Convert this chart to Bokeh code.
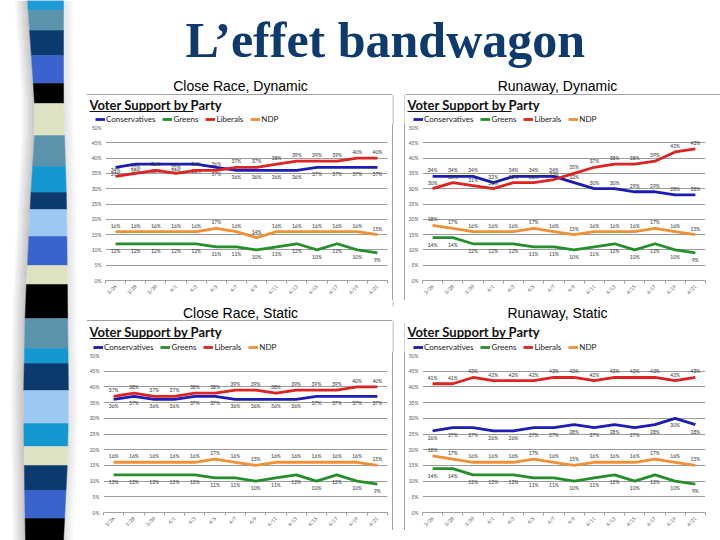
import numpy as np
from bokeh.plotting import figure
from bokeh.layouts import row, column
from bokeh.models import (Range1d, FixedTicker, Legend, LegendItem,
                          PrintfTickFormatter, Spacer)
from bokeh.embed import file_html
from bokeh.resources import INLINE
from bokeh.core.properties import value

# ---------------- data ----------------
dates = ["3/26", "3/28", "3/30", "4/1", "4/3", "4/5", "4/7",
         "4/9", "4/11", "4/13", "4/15", "4/17", "4/19", "4/21"]

party_names = ["Conservatives", "Greens", "Liberals", "NDP"]
party_colors = ["#1c1cb8", "#25902b", "#df2222", "#f39036"]

close_dyn_cons = [37, 38, 38, 38, 38, 37, 36, 36, 36, 36, 37, 37, 37, 37]
close_dyn_grn = [12, 12, 12, 12, 12, 11, 11, 10, 11, 12, 10, 12, 10, 9]
close_dyn_lib = [34, 35, 36, 35, 36, 36, 37, 37, 38, 39, 39, 39, 40, 40]
close_dyn_ndp = [16, 16, 16, 16, 16, 17, 16, 14, 16, 16, 16, 16, 16, 15]

run_dyn_cons = [34, 34, 34, 32, 34, 34, 34, 32, 30, 30, 29, 29, 28, 28]
run_dyn_grn = [14, 14, 12, 12, 12, 11, 11, 10, 11, 12, 10, 12, 10, 9]
run_dyn_lib = [30, 32, 31, 30, 32, 32, 33, 35, 37, 38, 38, 39, 42, 43]
run_dyn_ndp = [18, 17, 16, 16, 16, 17, 16, 15, 16, 16, 16, 17, 16, 15]

close_sta_cons = [36, 37, 36, 36, 37, 37, 36, 36, 36, 36, 37, 37, 37, 37]
close_sta_grn = [12, 12, 12, 12, 12, 11, 11, 10, 11, 12, 10, 12, 10, 9]
close_sta_lib = [37, 38, 37, 37, 38, 38, 39, 39, 38, 39, 39, 39, 40, 40]
close_sta_ndp = [16, 16, 16, 16, 16, 17, 16, 15, 16, 16, 16, 16, 16, 15]

run_sta_cons = [26, 27, 27, 26, 26, 27, 27, 28, 27, 28, 27, 28, 30, 28]
run_sta_grn = [14, 14, 12, 12, 12, 11, 11, 10, 11, 12, 10, 12, 10, 9]
run_sta_lib = [41, 41, 43, 42, 42, 42, 43, 43, 42, 43, 43, 43, 42, 43]
run_sta_ndp = [18, 17, 16, 16, 16, 17, 16, 15, 16, 16, 16, 17, 16, 15]

y_ticks = [0, 5, 10, 15, 20, 25, 30, 35, 40, 45, 50]

# decorative stripe of the slide template
stripe_tops = [0, 10, 30, 55, 83, 103, 135, 166, 192, 209, 236, 265, 284,
               318, 348, 363, 390, 423, 446, 465, 490, 518]
stripe_bottoms = stripe_tops[1:] + [540]
stripe_colors = ["#1e9bd7", "#5b93ac", "#0c3a6e", "#3a63ce", "#000000",
                 "#dfe1c3", "#5b93ac", "#1597cf", "#0c3a6e", "#9cc8f2",
                 "#3a63ce", "#dfe1c3", "#000000", "#5b93ac", "#1597cf",
                 "#0c3a6e", "#9cc8f2", "#1597cf", "#dfe1c3", "#0c3a6e",
                 "#3a63ce", "#000000"]
edge_left_y = [0, 100, 135, 200, 265, 300, 400, 480, 540]
edge_left_x = [27, 34, 34, 30, 27, 25, 23, 24, 25]
edge_right_y = [0, 100, 200, 300, 400, 460, 500, 540]
edge_right_x = [63, 63, 66, 67, 68, 67, 65, 63]

FONT = "Lato"
BORDER = "#a2a2a2"


def blank(width, height, x0, x1, y0, y1):
    p = figure(width=width, height=height, x_range=Range1d(x0, x1),
               y_range=Range1d(y1, y0), output_backend="svg", title=None,
               toolbar_location=None, x_axis_type=None, y_axis_type=None,
               min_border=0, outline_line_color=None)
    p.grid.visible = False
    return p


def make_stripe():
    p = blank(86, 540, 0, 86, 0, 540)
    yy = np.linspace(0, 540, 55)
    lx = np.interp(yy, edge_left_y, edge_left_x)
    rx = np.interp(yy, edge_right_y, edge_right_x)
    for d in range(1, 14):
        a = 0.42 * (14 - d) / 13
        p.patch(list(lx - d) + list((lx - d + 1)[::-1]),
                list(yy) + list(yy[::-1]), color="#6e6e6e", alpha=a,
                line_width=0)
    for d in range(1, 11):
        a = 0.2 * (11 - d) / 10
        p.patch(list(rx + d - 1) + list((rx + d)[::-1]),
                list(yy) + list(yy[::-1]), color="#6e6e6e", alpha=a,
                line_width=0)
    xs, ys = [], []
    for t, b in zip(stripe_tops, stripe_bottoms):
        lt, lb = np.interp([t, b], edge_left_y, edge_left_x)
        rt, rb = np.interp([t, b], edge_right_y, edge_right_x)
        xs.append([lt, rt, rb, lb])
        ys.append([t, t, b, b])
    p.patches(xs, ys, fill_color=stripe_colors, line_color=stripe_colors,
              line_width=0.5)
    return p


def make_title():
    p = blank(634, 75, 86, 720, 0, 75)
    p.text([185], [39], text=["L\u2019effet bandwagon"],
           text_font=value("Liberation Serif"), text_font_style="bold",
           text_font_size="50px", text_color="#0e3a6e",
           text_baseline="middle", text_align="left")
    return p


def make_gap_fig(y0, y1, lines):
    p = blank(13, y1 - y0, 392, 405, y0, y1)
    for x, top, bot in lines:
        p.quad(left=x, right=x + 1, top=top, bottom=bot, color=BORDER,
               line_width=0)
    return p


def make_gap_spacer(height, line_height):
    grad = ("linear-gradient(to right, %s 0px, %s 1px, transparent 1px, "
            "transparent 12px, %s 12px, %s 13px)" % ((BORDER,) * 4))
    return Spacer(width=13, height=height,
                  styles={"background-image": grad,
                          "background-size": "13px %dpx" % line_height,
                          "background-repeat": "no-repeat",
                          "background-position": "0 0"})


def make_header(x0, x1, y0, y1, panel_title, title_cx, title_cy,
                vsp_x, vsp_cy, leg_x, top_border):
    p = blank(x1 - x0, y1 - y0, x0, x1, y0, y1)
    p.text([title_cx], [title_cy], text=[panel_title],
           text_font=value("Liberation Sans"), text_font_size="14px",
           text_align="center", text_baseline="middle", text_color="#000000")
    p.text([vsp_x], [vsp_cy], text=["Voter Support by Party"],
           text_font=value(FONT), text_font_style="bold",
           text_font_size="13px", text_align="left",
           text_baseline="middle", text_color="#111111")
    p.segment(vsp_x, vsp_cy + 7, vsp_x + 104, vsp_cy + 7,
              line_color="#111111", line_width=1)
    if top_border is not None:
        p.segment(x0, top_border, x1, top_border, line_color=BORDER,
                  line_width=1)
    items = []
    for name, color in zip(party_names, party_colors):
        # legend-only renderer: no visible data
        r = p.line(x=[x0, x0], y=[np.nan, np.nan], line_color=color,
                   line_width=2.8)
        items.append(LegendItem(label=name, renderers=[r]))
    leg = Legend(items=items, orientation="horizontal",
                 location=(leg_x - x0, 0), margin=0, padding=0,
                 spacing=7, label_standoff=1, glyph_width=10,
                 glyph_height=6, label_height=8, label_width=10,
                 label_text_font=FONT, label_text_font_size="8px",
                 label_text_color="#222222", border_line_color=None,
                 background_fill_alpha=0)
    p.add_layout(leg)
    return p


def make_chart(x0, x1, y0, y1, fl, fr, ft, fb, series, offsets):
    n = len(dates)
    xs = [i + 0.5 for i in range(n)]
    p = figure(width=x1 - x0, height=y1 - y0, x_range=Range1d(0, n),
               y_range=Range1d(0, 50), output_backend="svg",
               toolbar_location=None, title=None,
               min_border_left=fl - x0, min_border_right=x1 - fr,
               min_border_top=ft - y0, min_border_bottom=y1 - fb,
               outline_line_color=None)
    xa = p.xaxis[0]
    xa.ticker = FixedTicker(ticks=xs, minor_ticks=list(range(n + 1)))
    xa.major_label_overrides = {x: d for x, d in zip(xs, dates)}
    xa.major_label_orientation = np.pi / 4
    xa.major_label_text_font_size = "5px"
    xa.major_label_text_color = "#555555"
    xa.major_label_text_font = FONT
    xa.major_label_standoff = 2
    xa.major_tick_line_color = None
    xa.major_tick_out = 0
    xa.major_tick_in = 0
    xa.minor_tick_line_color = "#a0a0a0"
    xa.minor_tick_out = 3
    xa.minor_tick_in = 0
    xa.axis_line_color = "#a0a0a0"
    ya = p.yaxis[0]
    ya.ticker = FixedTicker(ticks=y_ticks)
    ya.formatter = PrintfTickFormatter(format="%d%%")
    ya.axis_line_color = None
    ya.major_tick_line_color = None
    ya.major_tick_out = 0
    ya.major_tick_in = 0
    ya.minor_tick_line_color = None
    ya.major_label_text_font_size = "5px"
    ya.major_label_text_color = "#555555"
    ya.major_label_text_font = FONT
    ya.major_label_standoff = 4
    p.xgrid.grid_line_color = None
    p.ygrid.grid_line_color = "#9c9c9c"
    p.ygrid.grid_line_width = 1

    for color, vals, off in zip(party_colors, series, offsets):
        p.line(xs, vals, line_color=color, line_width=2.8)
        p.text(xs, vals, text=[f"{v}%" for v in vals], y_offset=off,
               text_font=value(FONT), text_font_size="5px",
               text_color="#333333", text_align="center",
               text_baseline="middle")
    return p


offs_close = [7, 7, -6, -6]
offs_run = [-6, 7, -6, -6]
offs_run_static = [7, 7, -6, -6]

# top row: header y 75..124, chart y 124..300 ; bottom: 300..352, 352..540
hTL = make_header(86, 392, 75, 124, "Close Race, Dynamic", 240, 85,
                  89, 104, 95, 94)
hTR = make_header(405, 720, 75, 124, "Runaway, Dynamic", 557, 85,
                  407, 104, 413, 94)
cTL = make_chart(86, 392, 124, 300, 105, 387, 127, 285,
                 [close_dyn_cons, close_dyn_grn, close_dyn_lib, close_dyn_ndp],
                 offs_close)
cTR = make_chart(405, 720, 124, 300, 422, 705, 127, 285,
                 [run_dyn_cons, run_dyn_grn, run_dyn_lib, run_dyn_ndp],
                 offs_run)
hBL = make_header(86, 392, 300, 352, "Close Race, Static", 240, 312,
                  89, 331, 93, 320)
hBR = make_header(405, 720, 300, 352, "Runaway, Static", 557, 312,
                  407, 331, 413, None)
cBL = make_chart(86, 392, 352, 540, 103, 387, 355, 512,
                 [close_sta_cons, close_sta_grn, close_sta_lib, close_sta_ndp],
                 offs_close)
cBR = make_chart(405, 720, 352, 540, 422, 705, 355, 512,
                 [run_sta_cons, run_sta_grn, run_sta_lib, run_sta_ndp],
                 offs_run_static)

gap_h_top = make_gap_fig(75, 124, [(392, 94, 124), (404, 94, 124)])
gap_c_top = make_gap_spacer(176, 176)
gap_h_bot = make_gap_fig(300, 352, [(392, 300, 306), (392, 320, 352),
                                    (404, 322, 352)])
gap_c_bot = make_gap_spacer(188, 178)

main = column(make_title(),
              row(hTL, gap_h_top, hTR),
              row(cTL, gap_c_top, cTR),
              row(hBL, gap_h_bot, hBR),
              row(cBL, gap_c_bot, cBR))
layout = row(make_stripe(), main)

open("out.html", "w").write(file_html(layout, INLINE))
